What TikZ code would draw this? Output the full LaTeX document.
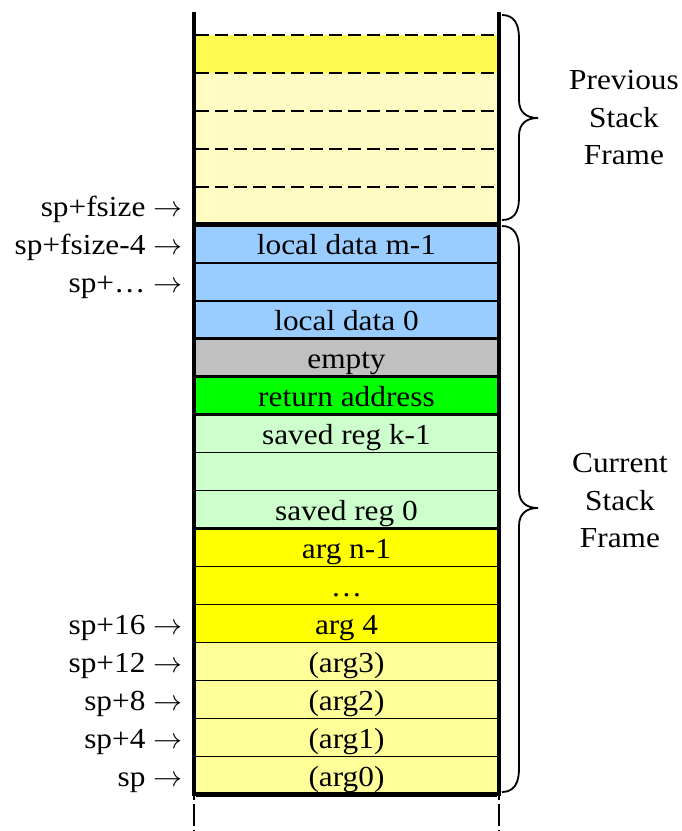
\RequirePackage{fix-cm}
\documentclass[tikz,border=0pt]{standalone}
\usepackage{fontspec}
\setmainfont[FakeStretch=1.08]{Liberation Serif}
\definecolor{cblue}{HTML}{99CCFF}
\definecolor{cgray}{HTML}{C0C0C0}
\definecolor{cgreen}{HTML}{00FF00}
\definecolor{cpalegreen}{HTML}{CCFFCC}
\definecolor{cyellow}{HTML}{FFFF00}
\definecolor{cpaleyellow}{HTML}{FFFF99}
\definecolor{prevtop}{HTML}{FFFA50}
\definecolor{prevlow}{HTML}{FFFBC2}
\begin{document}
\begin{tikzpicture}[x=1pt,y=-1pt,
  font=\fontsize{29}{37.5}\selectfont,
  cell/.style={rectangle, inner sep=0pt, minimum width=301pt, minimum height=37.95pt,
    text height=26pt, text depth=4pt},
  thinsep/.style={line width=1.4pt},
  groupsep/.style={line width=2.8pt},
  framewall/.style={line width=4.6pt},
  prevdash/.style={line width=2pt, dash pattern=on 13pt off 6pt},
  walldash/.style={line width=2.2pt, dash pattern=on 6pt off 4pt on 22pt off 4pt},
  bracestyle/.style={line width=1.8pt},
  addr/.style={anchor=base east},
  side/.style={align=center, anchor=center}]
\useasboundingbox (0,0) rectangle (681,831);

% previous stack frame rows
\foreach \i/\col in {1/prevtop,2/prevlow,3/prevlow,4/prevlow,5/prevlow}{
  \node[cell, fill=\col] (p\i) at (346.5, {35+37.95*(\i-1)+18.975}) {};
}
% current stack frame rows
\foreach \i/\col/\txt in {
  1/cblue/local data m-1, 2/cblue/, 3/cblue/local data 0,
  4/cgray/empty, 5/cgreen/return address,
  6/cpalegreen/saved reg k-1, 7/cpalegreen/, 8/cpalegreen/saved reg 0,
  9/cyellow/arg n-1, 10/cyellow/…, 11/cyellow/arg 4,
  12/cpaleyellow/(arg3), 13/cpaleyellow/(arg2), 14/cpaleyellow/(arg1), 15/cpaleyellow/(arg0)}{
  \node[cell, fill=\col] (c\i) at (346.5, {35+37.95*(\i+4)+18.975}) {\txt};
}

% dashed lines in previous frame
\foreach \i in {1,...,5}{
  \draw[prevdash] (p\i.north west) -- (p\i.north east);
}
% thin separators
\foreach \i in {1,2,5,6,7,9,10,11,12,13,14}{
  \draw[thinsep] (c\i.south west) -- (c\i.south east);
}
% group separators
\foreach \i in {3,4,5,8}{
  \draw[groupsep] (c\i.south west) -- (c\i.south east);
}
% frame boundary and bottom
\draw[framewall] (c1.north west) -- (c1.north east);
\draw[framewall] (c15.south west) -- (c15.south east);

% walls
\coordinate (lt) at (194,12);
\coordinate (lb) at (194,796);
\coordinate (rt) at (499,12);
\coordinate (rb) at (499,796);
\coordinate (ld) at (194,831);
\coordinate (rd) at (499,831);
\draw[framewall] (lt) -- (lb);
\draw[framewall] (rt) -- (rb);
\draw[walldash] ([yshift=2pt]lb) -- (ld);
\draw[walldash] ([yshift=2pt]rb) -- (rd);

% address labels
\node[addr] (a1) at ([xshift=-10pt]p5.base west) {sp+fsize $\rightarrow$};
\node[addr] (a2) at ([xshift=-10pt]c1.base west) {sp+fsize-4 $\rightarrow$};
\node[addr] (a3) at ([xshift=-10pt]c2.base west) {sp+… $\rightarrow$};
\node[addr] (a4) at ([xshift=-10pt]c11.base west) {sp+16 $\rightarrow$};
\node[addr] (a5) at ([xshift=-10pt]c12.base west) {sp+12 $\rightarrow$};
\node[addr] (a6) at ([xshift=-10pt]c13.base west) {sp+8 $\rightarrow$};
\node[addr] (a7) at ([xshift=-10pt]c14.base west) {sp+4 $\rightarrow$};
\node[addr] (a8) at ([xshift=-10pt]c15.base west) {sp $\rightarrow$};

% braces
\draw[bracestyle] (502,15) .. controls (514,15) and (519,24) .. (519,38) -- (519,100)
  .. controls (519,112) and (526,118) .. (538,118)
  .. controls (526,118) and (519,124) .. (519,136) -- (519,198)
  .. controls (519,212) and (514,220) .. (502,220);
\draw[bracestyle] (502,226) .. controls (514,226) and (519,235) .. (519,249) -- (519,490)
  .. controls (519,502) and (526,508) .. (538,508)
  .. controls (526,508) and (519,514) .. (519,526) -- (519,769)
  .. controls (519,783) and (514,792) .. (502,792);

% side labels
\node[side] (prevlbl) at (624,118) {Previous\\Stack\\Frame};
\node[side] (curlbl) at (620,501) {Current\\Stack\\Frame};
\end{tikzpicture}
\end{document}
